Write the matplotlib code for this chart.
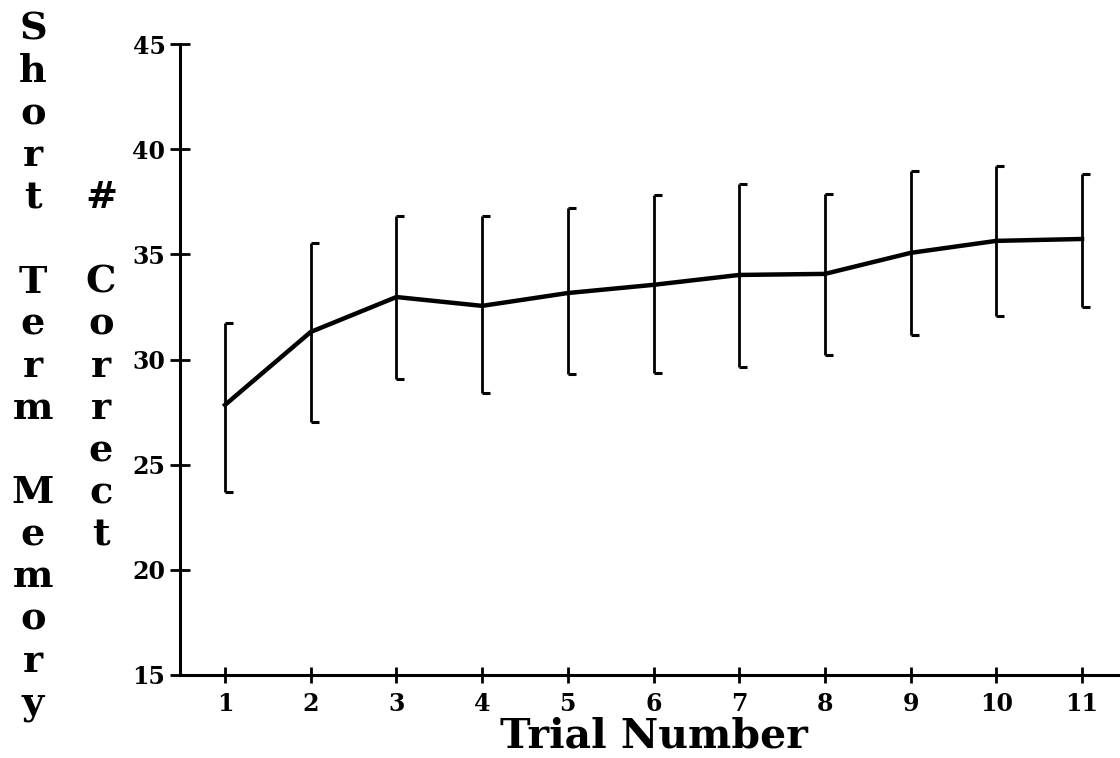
import numpy as np
import matplotlib
matplotlib.use("Agg")
import matplotlib.pyplot as plt

# Mean number correct per trial, with the ends of each error bar
trials = [1, 2, 3, 4, 5, 6, 7, 8, 9, 10, 11]
means = [27.84, 31.31, 32.97, 32.55, 33.16, 33.55, 34.02, 34.07, 35.07, 35.64, 35.73]
upper = [31.74, 35.54, 36.83, 36.83, 37.20, 37.82, 38.35, 37.87, 38.97, 39.20, 38.82]
lower = [23.70, 27.03, 29.07, 28.41, 29.31, 29.36, 29.65, 30.22, 31.17, 32.07, 32.50]

y_ticks = [15, 20, 25, 30, 35, 40, 45]
x_label = "Trial Number"
outer_label = "Short Term Memory"
inner_label = "# Correct"

W, H = 1120, 758
FONT = "DejaVu Serif"

fig = plt.figure(figsize=(W / 100, H / 100), dpi=100)
fig.patch.set_facecolor("white")

ax_left, ax_right, ax_top, ax_bottom = 180, 1120, 44, 675
ax = fig.add_axes([ax_left / W, 1 - ax_bottom / H,
                   (ax_right - ax_left) / W, (ax_bottom - ax_top) / H])

means_a = np.array(means)
upper_a = np.array(upper)
lower_a = np.array(lower)

ax.errorbar(trials, means_a, yerr=[means_a - lower_a, upper_a - means_a],
            fmt="-", color="black", lw=3.2, elinewidth=2.0, capsize=0,
            solid_joinstyle="round")
# half caps pointing right at both ends of each bar
ax.plot(trials, upper_a, ls="none", marker=1, ms=6, mew=2.2, color="black")
ax.plot(trials, lower_a, ls="none", marker=1, ms=6, mew=2.2, color="black")

ax.set_xlim(0.475, 11.443)
ax.set_ylim(15, 45)
ax.set_xticks(trials)
ax.set_yticks(y_ticks)
ax.set_xticklabels([str(t) for t in trials], fontfamily=FONT,
                   fontweight="bold", fontsize=17)
ax.set_yticklabels([str(t) for t in y_ticks], fontfamily=FONT,
                   fontweight="bold", fontsize=17)

for side in ("top", "right"):
    ax.spines[side].set_visible(False)
for side in ("left", "bottom"):
    ax.spines[side].set_linewidth(2.2)
    ax.spines[side].set_color("black")

ax.tick_params(axis="x", direction="inout", length=11.5, width=2.0,
               pad=6.5, colors="black")
ax.tick_params(axis="y", direction="inout", length=14, width=2.0,
               pad=3.5, colors="black")

# x-axis title
fig.text(654 / W, 1 - 747 / H, x_label, fontfamily=FONT, fontweight="bold",
         fontsize=29.5, ha="center", va="baseline")

# stacked y-axis titles, one character per row
row0, step = 26, 42.1
for i, ch in enumerate(outer_label):
    if ch != " ":
        fig.text(33 / W, 1 - (row0 + i * step + 14) / H, ch, fontfamily=FONT,
                 fontweight="bold", fontsize=27.5, ha="center", va="baseline")
for i, ch in enumerate(inner_label):
    if ch != " ":
        fig.text(101 / W, 1 - (row0 + (i + 4) * step + 14) / H, ch,
                 fontfamily=FONT, fontweight="bold", fontsize=27.5,
                 ha="center", va="baseline")

fig.savefig("out.png", dpi=100, facecolor="white")
